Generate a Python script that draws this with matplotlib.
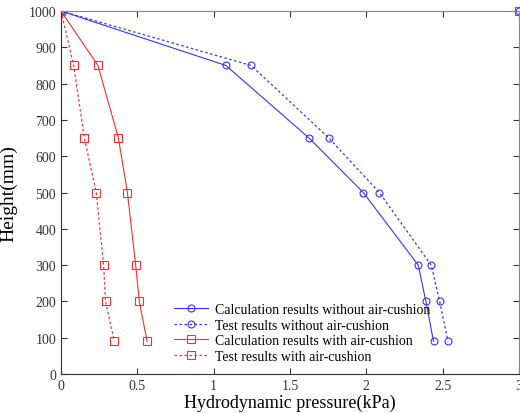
import matplotlib
matplotlib.use("Agg")
import matplotlib.pyplot as plt

plt.rcParams['font.family'] = ['Liberation Serif', 'DejaVu Serif']

# Height (mm)
height = [1000, 850, 650, 500, 300, 200, 90]

# Hydrodynamic pressure (kPa)
calc_without = [0, 1.08, 1.625, 1.98, 2.34, 2.39, 2.44]
test_without = [0, 1.245, 1.755, 2.085, 2.425, 2.48, 2.535]
calc_with = [0, 0.242, 0.376, 0.435, 0.489, 0.513, 0.564]
test_with = [0, 0.083, 0.153, 0.231, 0.279, 0.292, 0.349]

labels = ["Calculation results without air-cushion",
          "Test results without air-cushion",
          "Calculation results with air-cushion",
          "Test results with air-cushion"]

blue = '#3333ff'
red = '#ff2a2a'

fig = plt.figure(figsize=(5.2, 4.14), dpi=100)
ax = fig.add_axes([0.1173, 0.0942, 0.8808, 0.8768])

ax.plot(calc_without, height, '-', color=blue, lw=0.8, marker='o', ms=5,
        mfc='none', mec=blue, mew=0.8, label=labels[0])
ax.plot(test_without, height, '--', dashes=(2, 2), color=blue, lw=0.9,
        marker='o', ms=5, mfc='none', mec=blue, mew=0.8, label=labels[1])
ax.plot(calc_with, height, '-', color=red, lw=0.8, marker='s', ms=6,
        mfc='none', mec=red, mew=0.8, label=labels[2])
ax.plot(test_with, height, '--', dashes=(2, 2), color=red, lw=0.9,
        marker='s', ms=6, mfc='none', mec=red, mew=0.8, label=labels[3])

# stray markers at the top right corner
ax.plot([3], [1000], 's', ms=6, mfc='none', mec=red, mew=0.8, clip_on=False)
ax.plot([3], [1000], 'o', ms=5, mfc='none', mec=blue, mew=0.8, clip_on=False)

ax.set_xlim(0, 3)
ax.set_ylim(0, 1000)
ax.set_xticks([0, 0.5, 1, 1.5, 2, 2.5, 3])
ax.set_xticklabels(['0', '0.5', '1', '1.5', '2', '2.5', '3'])
ax.set_yticks(range(0, 1001, 100))
ax.tick_params(direction='in', top=True, right=True, labelsize=10,
               length=4, width=0.8, colors='#333333')
for s in ['left', 'bottom']:
    ax.spines[s].set_color('#333333')
for s in ['top', 'right']:
    ax.spines[s].set_color('#888888')

ax.set_xlabel('Hydrodynamic pressure(kPa)', fontsize=13, labelpad=1)
ax.set_ylabel('Height(mm)', fontsize=14, labelpad=8)

ax.legend(loc='upper left', bbox_to_anchor=(0.234, 0.21), frameon=False,
          fontsize=10, handlelength=2.5, handletextpad=0.45,
          labelspacing=0.18, borderaxespad=0)

fig.savefig('out.png', dpi=100)
